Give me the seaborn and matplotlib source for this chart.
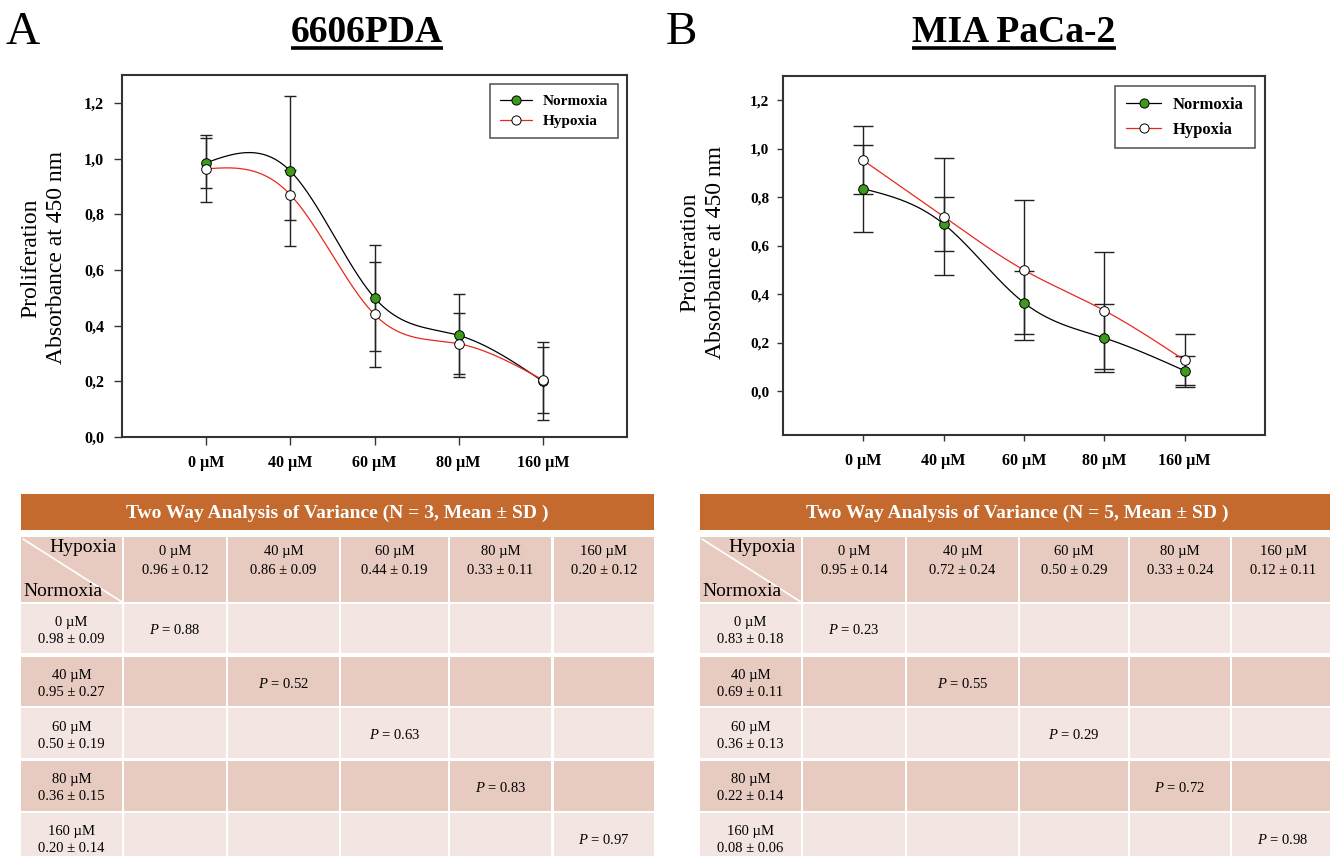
import numpy as np
import pandas as pd
import matplotlib
matplotlib.use('Agg')
import matplotlib.pyplot as plt
import seaborn as sns
from matplotlib.patches import Rectangle
from matplotlib.lines import Line2D

# ---------------- data ----------------
conc = ['0 µM', '40 µM', '60 µM', '80 µM', '160 µM']
series = ['Normoxia', 'Hypoxia']

a_norm = [0.985, 0.955, 0.50, 0.365, 0.20]
a_norm_sd = [0.09, 0.27, 0.19, 0.15, 0.14]
a_hyp = [0.963, 0.87, 0.44, 0.335, 0.205]
a_hyp_sd = [0.12, 0.09, 0.19, 0.11, 0.12]

b_norm = [0.835, 0.69, 0.365, 0.22, 0.085]
b_norm_sd = [0.18, 0.11, 0.13, 0.14, 0.06]
b_hyp = [0.952, 0.72, 0.50, 0.333, 0.128]
b_hyp_sd = [0.14, 0.24, 0.29, 0.24, 0.11]

ytick_vals = [0.0, 0.2, 0.4, 0.6, 0.8, 1.0, 1.2]
ytick_labels = ['0,0', '0,2', '0,4', '0,6', '0,8', '1,0', '1,2']

a_table_title = 'Two Way Analysis of Variance (N = 3, Mean ± SD )'
a_hyp_txt = ['0.96 ± 0.12', '0.86 ± 0.09', '0.44 ± 0.19', '0.33 ± 0.11', '0.20 ± 0.12']
a_norm_txt = ['0.98 ± 0.09', '0.95 ± 0.27', '0.50 ± 0.19', '0.36 ± 0.15', '0.20 ± 0.14']
a_p = ['0.88', '0.52', '0.63', '0.83', '0.97']

b_table_title = 'Two Way Analysis of Variance (N = 5, Mean ± SD )'
b_hyp_txt = ['0.95 ± 0.14', '0.72 ± 0.24', '0.50 ± 0.29', '0.33 ± 0.24', '0.12 ± 0.11']
b_norm_txt = ['0.83 ± 0.18', '0.69 ± 0.11', '0.36 ± 0.13', '0.22 ± 0.14', '0.08 ± 0.06']
b_p = ['0.23', '0.55', '0.29', '0.72', '0.98']

# ---------------- style ----------------
W, H = 1330, 856
sns.set_theme(style='ticks')
plt.rcParams['font.family'] = ['Liberation Serif', 'DejaVu Serif']
plt.rcParams['mathtext.fontset'] = 'custom'
plt.rcParams['mathtext.rm'] = 'Liberation Serif'
plt.rcParams['mathtext.it'] = 'Liberation Serif:italic'
plt.rcParams['axes.facecolor'] = 'white'
plt.rcParams['text.color'] = 'black'
plt.rcParams['axes.labelcolor'] = 'black'
plt.rcParams['xtick.color'] = 'black'
plt.rcParams['ytick.color'] = 'black'

GREEN = '#3d9a1b'
RED = '#e8281e'
ORANGE = '#c46a2f'
DARK = '#e8cbc0'
LIGHT = '#f3e6e2'

fig = plt.figure(figsize=(13.3, 8.56), dpi=100)
fig.patch.set_facecolor('white')
over = fig.add_axes([0, 0, 1, 1], zorder=0)
over.set_xlim(0, W)
over.set_ylim(H, 0)
over.axis('off')


def add_ax(l, t, r, b):
    return fig.add_axes([l / W, 1 - b / H, (r - l) / W, (b - t) / H], zorder=2)


def nat_spline(y, n=80):
    y = np.asarray(y, float)
    k = len(y)
    A = np.zeros((k, k))
    d = np.zeros(k)
    A[0, 0] = 1
    A[-1, -1] = 1
    for i in range(1, k - 1):
        A[i, i - 1] = 1
        A[i, i] = 4
        A[i, i + 1] = 1
        d[i] = 6 * (y[i + 1] - 2 * y[i] + y[i - 1])
    M = np.linalg.solve(A, d)
    xs, ys = [], []
    for i in range(k - 1):
        t = np.linspace(0, 1, n, endpoint=(i == k - 2))
        s = y[i] * (1 - t) + y[i + 1] * t + (M[i] * ((1 - t) ** 3 - (1 - t)) + M[i + 1] * (t ** 3 - t)) / 6
        xs.append(i + t)
        ys.append(s)
    return np.concatenate(xs), np.concatenate(ys)


def panel(ax, norm, nsd, hyp, hsd, ylim, capsize, legfs, tick_len, ypad, xpad, ytfs, xtfs, lspace):
    x = np.arange(len(conc))
    ax.errorbar(x, norm, yerr=nsd, fmt='none', ecolor='#222222', elinewidth=1.0,
                capsize=capsize, capthick=1.0, zorder=2)
    ax.errorbar(x, hyp, yerr=hsd, fmt='none', ecolor='#222222', elinewidth=1.0,
                capsize=capsize, capthick=1.0, zorder=2)
    xs, ys = nat_spline(norm)
    sns.lineplot(x=xs, y=ys, ax=ax, color='black', lw=0.9, sort=False, estimator=None, zorder=3)
    xs, ys = nat_spline(hyp)
    sns.lineplot(x=xs, y=ys, ax=ax, color=RED, lw=0.9, sort=False, estimator=None, zorder=3)
    sns.scatterplot(x=x, y=norm, ax=ax, color=GREEN, edgecolor='black', s=48, linewidth=0.7, zorder=4)
    sns.scatterplot(x=x, y=hyp, ax=ax, color='white', edgecolor='black', s=48, linewidth=0.7, zorder=5)
    ax.set_xlim(-1, 5)
    ax.set_ylim(*ylim)
    ax.set_xticks(x)
    ax.set_xticklabels(conc, fontweight='bold', fontsize=xtfs)
    ax.set_yticks(ytick_vals)
    ax.set_yticklabels(ytick_labels, fontweight='bold', fontsize=ytfs)
    for s in ax.spines.values():
        s.set_visible(True)
        s.set_linewidth(1.5)
        s.set_color('#333333')
    ax.tick_params(axis='both', direction='out', length=tick_len, width=1.0, color='#333333', labelcolor='black')
    ax.tick_params(axis='y', pad=ypad)
    ax.tick_params(axis='x', pad=xpad)
    ax.set_xlabel('')
    ax.set_ylabel('')
    handles = [Line2D([], [], color='black', lw=0.9, marker='o', mfc=GREEN, mec='black', ms=6.6, mew=0.7),
               Line2D([], [], color=RED, lw=0.9, marker='o', mfc='white', mec='black', ms=6.6, mew=0.7)]
    leg = ax.legend(handles, series, loc='upper right', bbox_to_anchor=(1, 1),
                    borderaxespad=0.62, frameon=True, fancybox=False, edgecolor='#222222',
                    prop={'weight': 'bold', 'size': legfs}, handlelength=2.1, handletextpad=0.7,
                    borderpad=0.65, labelspacing=lspace)
    leg.get_frame().set_linewidth(1.1)


axA = add_ax(122, 75, 627, 437)
panel(axA, a_norm, a_norm_sd, a_hyp, a_hyp_sd, (0, 1.3), 4.0, 11, 6, 7, 7, 11.5, 11.5, 0.42)
axB = add_ax(783, 76, 1265, 435)
panel(axB, b_norm, b_norm_sd, b_hyp, b_hyp_sd, (-0.18, 1.3), 7.0, 12, 4, 6, 9, 11, 11.5, 0.5)

# panel letters, titles, y labels
over.text(5, 44, 'A', fontsize=34, va='baseline', ha='left')
over.text(666, 44, 'B', fontsize=34, va='baseline', ha='left')
tA = over.text(367, 42, '6606PDA', fontsize=27, fontweight='bold', ha='center', va='baseline')
tB = over.text(1014, 42, 'MIA PaCa-2', fontsize=27, fontweight='bold', ha='center', va='baseline')
ylab = 'Proliferation\nAbsorbance at 450 nm'
over.text(44, 258, ylab, rotation=90, ha='center', va='center', multialignment='center',
          fontsize=17, linespacing=1.3)
over.text(703, 252, ylab, rotation=90, ha='center', va='center', multialignment='center',
          fontsize=17, linespacing=1.3)

fig.canvas.draw()
rend = fig.canvas.get_renderer()
inv = over.transData.inverted()
for t in (tA, tB):
    bb = t.get_window_extent(rend)
    (x0, _), (x1, _) = inv.transform([(bb.x0, bb.y0), (bb.x1, bb.y0)])
    over.plot([x0, x1], [48, 48], color='black', lw=2.6, solid_capstyle='butt')

# ---------------- tables ----------------
row_edges = [(537, 602), (604, 653), (657, 706), (708, 758), (761, 811), (813, 863)]


def table(cols, title, hyp_txt, norm_txt, pvals):
    left, right = cols[0][0], cols[-1][1]
    over.add_patch(Rectangle((left, 494), right - left, 36, color=ORANGE, lw=0))
    cx = (left + min(right, 1334)) / 2
    over.text(cx, 513, title, color='white', fontsize=14, fontweight='bold', ha='center', va='center')
    for ri, (t, b) in enumerate(row_edges):
        col = DARK if (ri == 0 or ri % 2 == 0) else LIGHT
        for (l, r) in cols:
            over.add_patch(Rectangle((l, t), r - l, b - t, color=col, lw=0))
    # corner cell
    l, r = cols[0]
    over.plot([l + 2, r], [539, 602], color='white', lw=1.2)
    over.text(r - 5, 548, 'Hypoxia', fontsize=14, ha='right', va='center')
    over.text(l + 2, 592, 'Normoxia', fontsize=14, ha='left', va='center')
    for ci in range(5):
        l, r = cols[ci + 1]
        xc = (l + r) / 2
        over.text(xc, 552, conc[ci], fontsize=10.5, ha='center', va='center')
        over.text(xc, 570, hyp_txt[ci], fontsize=10.5, ha='center', va='center')
    for ri in range(5):
        t, b = row_edges[ri + 1]
        yc = (t + b) / 2
        l, r = cols[0]
        over.text((l + r) / 2, yc - 6, conc[ri], fontsize=10.5, ha='center', va='center')
        over.text((l + r) / 2, yc + 11, norm_txt[ri], fontsize=10.5, ha='center', va='center')
        l, r = cols[ri + 1]
        over.text((l + r) / 2, yc + 2, '$P$ = ' + pvals[ri], fontsize=10.5, ha='center', va='center')


colsA = [(21, 122), (124, 226), (228, 339), (341, 448), (450, 551), (554, 654)]
colsB = [(700, 801), (803, 905), (907, 1018), (1020, 1128), (1130, 1230), (1232, 1334)]
table(colsA, a_table_title, a_hyp_txt, a_norm_txt, a_p)
table(colsB, b_table_title, b_hyp_txt, b_norm_txt, b_p)

fig.savefig('out.png', dpi=100, facecolor='white')
